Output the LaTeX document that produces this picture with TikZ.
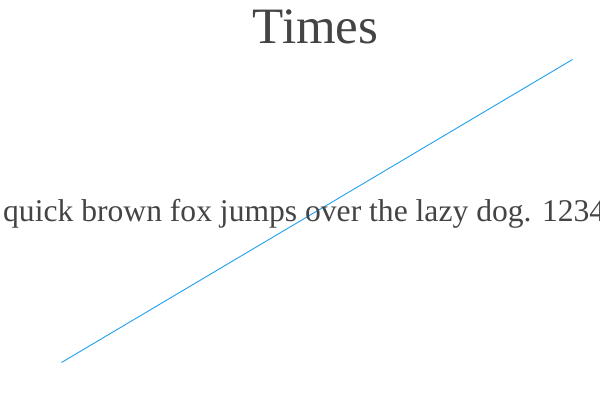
\documentclass[tikz,border=0pt]{standalone}
\usepackage{fontspec}
\setmainfont{Liberation Serif}
\usepackage{xcolor}
\usetikzlibrary{positioning}
\definecolor{textgrey}{HTML}{444444}
\definecolor{lineblue}{HTML}{1EA0F0}

\begin{document}
\begin{tikzpicture}[
      x=1pt, y=-1pt,
      label/.style={text=textgrey, inner sep=0pt, anchor=base},
      trend/.style={draw=lineblue, line width=0.9pt}
    ]
    % Canvas
    \useasboundingbox (0,0) rectangle (600,400);
    \clip (0,0) rectangle (600,400);
    % Line
    \coordinate (lo) at (61.5,362.5);
    \coordinate (hi) at (572.5,59.5);
    \draw[trend] (lo) -- (hi);
    % Texts
    \node[label, font=\fontsize{51}{58}\selectfont] (title) at (315.5,43) {Times};
    \node[label, anchor=base west, font=\fontsize{31.6}{36}\selectfont] (sample) at (3,221.5) {quick brown fox jumps over the lazy dog. 12345};
  \end{tikzpicture}
\end{document}
